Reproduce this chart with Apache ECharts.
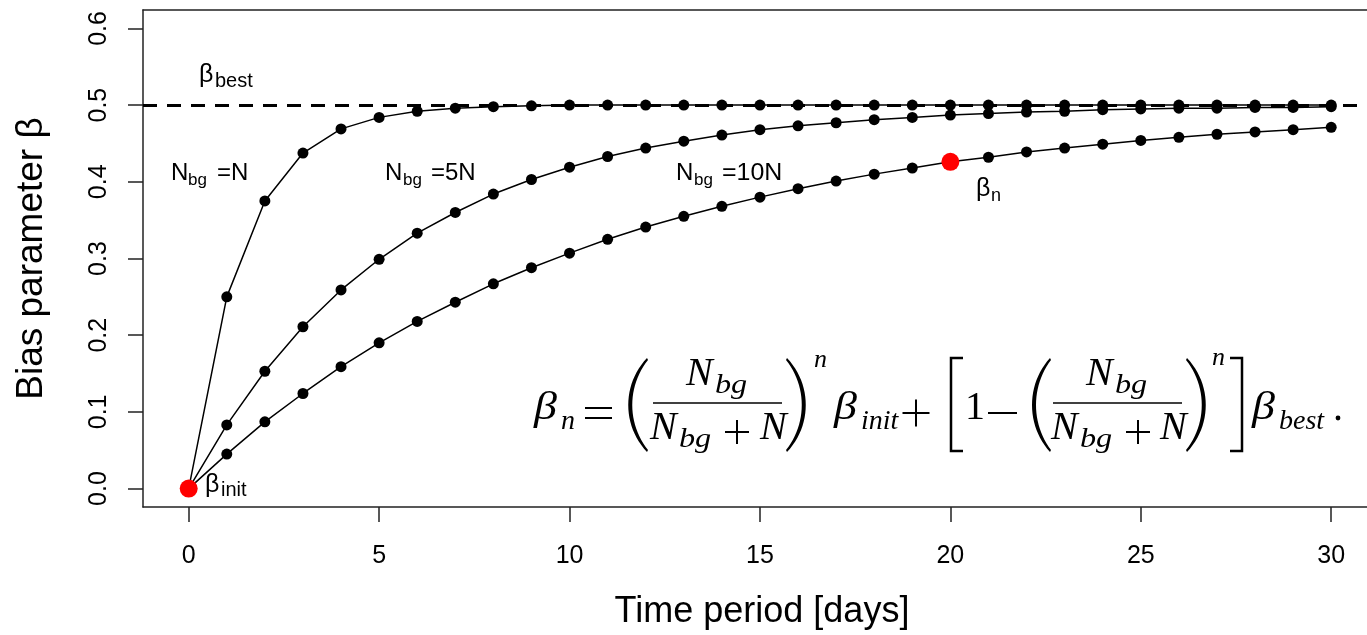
<!DOCTYPE html>
<html>
<head>
<meta charset="utf-8">
<script src="https://cdn.jsdelivr.net/npm/echarts@6/dist/echarts.min.js"></script>
<style>
  html, body { margin: 0; padding: 0; background: #fff; }
  #chart { width: 1367px; height: 635px; }
</style>
</head>
<body>
<div id="chart"></div>
<script>
// data
var days = [0, 1, 2, 3, 4, 5, 6, 7, 8, 9, 10, 11, 12, 13, 14, 15, 16, 17, 18, 19, 20,
  21, 22, 23, 24, 25, 26, 27, 28, 29, 30];
var betaN1 = [0, 0.25, 0.375, 0.4375, 0.469, 0.484, 0.492, 0.496, 0.498, 0.499, 0.5,
  0.5, 0.5, 0.5, 0.5, 0.5, 0.5, 0.5, 0.5, 0.5, 0.5, 0.5, 0.5, 0.5, 0.5, 0.5, 0.5, 0.5,
  0.5, 0.5, 0.5];
var betaN5 = [0, 0.083, 0.153, 0.211, 0.259, 0.299, 0.333, 0.360, 0.384, 0.403, 0.419,
  0.433, 0.444, 0.453, 0.461, 0.468, 0.473, 0.477, 0.481, 0.484, 0.487, 0.489, 0.491,
  0.492, 0.494, 0.495, 0.496, 0.496, 0.497, 0.497, 0.498];
var betaN10 = [0, 0.045, 0.087, 0.124, 0.159, 0.190, 0.218, 0.243, 0.267, 0.288, 0.307,
  0.325, 0.341, 0.355, 0.368, 0.380, 0.391, 0.401, 0.410, 0.418, 0.426, 0.432, 0.439,
  0.444, 0.449, 0.454, 0.458, 0.462, 0.465, 0.468, 0.471];
var betaBest = 0.5;
var redDays = [0, 20];
var redValues = [0, 0.426];
var xTicks = [0, 5, 10, 15, 20, 25, 30];
var yTicks = [0, 0.1, 0.2, 0.3, 0.4, 0.5, 0.6];

function pairs(xs, ys) {
  return xs.map(function (x, i) { return [x, ys[i]]; });
}

var SANS = 'Liberation Sans, Arial, Helvetica, sans-serif';
var SERIF = 'Liberation Serif, Times New Roman, serif';

// text placed by its baseline
function tx(text, x, base, size, serif, italic, sx) {
  return {
    type: 'text', x: x, y: base - 0.34 * size, z: 20, silent: true,
    scaleX: sx || 1,
    style: {
      text: text, fill: '#000', fontSize: size,
      fontFamily: serif ? SERIF : SANS,
      fontStyle: italic ? 'italic' : 'normal',
      align: 'left', verticalAlign: 'middle'
    }
  };
}
function seg(x1, y1, x2, y2, w) {
  return {
    type: 'line', z: 20, silent: true,
    shape: { x1: x1, y1: y1, x2: x2, y2: y2 },
    style: { stroke: '#000', lineWidth: w || 2 }
  };
}
function poly(pts, w) {
  return {
    type: 'polyline', z: 20, silent: true,
    shape: { points: pts },
    style: { stroke: '#000', lineWidth: w || 2.5, fill: null }
  };
}
function bez(a, b, c, d, t) {
  var u = 1 - t;
  return u * u * u * a + 3 * u * u * t * b + 3 * u * t * t * c + t * t * t * d;
}
// parenthesis as a thin crescent, dir -1 = "(", 1 = ")"
function paren(x0, x1, top, bot, dir) {
  var tip = dir < 0 ? x1 : x0, bow = dir < 0 ? x0 - 6 : x1 + 6;
  var bowIn = bow - dir * 5, tipIn = tip - dir * 1;
  var h = bot - top, pts = [], i, t;
  for (i = 0; i <= 24; i++) {
    t = i / 24;
    pts.push([bez(tip, bow, bow, tip, t), bez(top, top + h * 0.28, bot - h * 0.28, bot, t)]);
  }
  for (i = 24; i >= 0; i--) {
    t = i / 24;
    pts.push([bez(tipIn, bowIn, bowIn, tipIn, t), bez(top + 2, top + h * 0.3, bot - h * 0.3, bot - 2, t)]);
  }
  return { type: 'polygon', z: 20, silent: true, shape: { points: pts }, style: { fill: '#000' } };
}
function plus(cx, cy, s) {
  return [seg(cx - s / 2, cy, cx + s / 2, cy, 2), seg(cx, cy - s / 2, cx, cy + s / 2, 2)];
}

var M = 40, S = 28, SUP = 26, BX = 1.15;
var graphics = [
  // labels inside the plot
  tx('β', 199, 84, 25), tx('best', 215, 88, 20),
  tx('N', 171, 182, 24), tx('bg', 188, 186, 17), tx('=N', 217, 182, 24),
  tx('N', 385, 182, 24), tx('bg', 403, 186, 17), tx('=5N', 431, 182, 24),
  tx('N', 676, 182, 24), tx('bg', 694, 186, 17), tx('=10N', 722, 182, 24, false, false, 1.04),
  tx('β', 976, 198, 25), tx('n', 991, 202, 18),
  tx('β', 205, 494, 25), tx('init', 221, 497, 20),

  // formula
  tx('β', 534, 422, M, true, true, BX), tx('n', 561, 431, S, true, true),
  seg(585, 408, 612, 408), seg(585, 418, 612, 418),
  paren(628, 647, 358, 452, -1),
  tx('N', 686, 388, M, true, true), tx('bg', 715, 395, S, true, true, 1.15),
  seg(653, 403, 782, 403, 1.6),
  tx('N', 650, 442, M, true, true), tx('bg', 679, 449, S, true, true, 1.15),
  tx('N', 760, 442, M, true, true),
  paren(787, 806, 358, 452, 1),
  tx('n', 814, 369, SUP, true, true),
  tx('β', 834, 422, M, true, true, BX), tx('init', 861, 431, S, true, true),
  poly([[963, 358], [951, 358], [951, 451], [963, 451]]),
  tx('1', 965, 422, M, true, false),
  seg(988, 413, 1017, 413),
  paren(1032, 1050, 358, 452, -1),
  tx('N', 1086, 388, M, true, true), tx('bg', 1115, 395, S, true, true, 1.15),
  seg(1053, 403, 1182, 403, 1.6),
  tx('N', 1051, 442, M, true, true), tx('bg', 1080, 449, S, true, true, 1.15),
  tx('N', 1160, 442, M, true, true),
  paren(1187, 1206, 358, 452, 1),
  tx('n', 1212, 367, SUP, true, true),
  poly([[1230, 358], [1242, 358], [1242, 451], [1230, 451]]),
  tx('β', 1252, 422, M, true, true, BX), tx('best', 1279, 431, S, true, true),
  { type: 'circle', z: 20, silent: true, shape: { cx: 1338, cy: 418, r: 2.4 }, style: { fill: '#000' } }
].concat(plus(916, 413, 27), plus(737, 432, 24), plus(1138, 432, 24));

function curve(name, vals) {
  return {
    name: name, type: 'line', data: pairs(days, vals),
    symbol: 'circle', symbolSize: 11, showAllSymbol: true,
    itemStyle: { color: '#000' },
    lineStyle: { color: '#000', width: 1.5 },
    z: 3
  };
}

var chart = echarts.init(document.getElementById('chart'));
var n1 = curve('N', betaN1);
n1.markLine = {
  symbol: 'none', silent: true, label: { show: false },
  lineStyle: { color: '#000', width: 3, type: [14, 10] },
  data: [{ yAxis: betaBest }]
};

var frame = { show: true, onZero: false, lineStyle: { color: '#222', width: 1.5 } };

chart.setOption({
  animation: false,
  backgroundColor: '#fff',
  grid: { left: 143, top: 10, right: 0, bottom: 127 },
  xAxis: [{
    type: 'value', min: -1.2, max: 30.94, position: 'bottom',
    name: 'Time period [days]', nameLocation: 'middle', nameGap: 87,
    nameTextStyle: { fontSize: 36, color: '#000', fontFamily: SANS, padding: [0, 0, 0, 14] },
    axisLine: frame,
    axisTick: { show: true, inside: false, length: 15, customValues: xTicks,
      lineStyle: { color: '#222', width: 1.5 } },
    axisLabel: { customValues: xTicks, fontSize: 25, color: '#000', fontFamily: SANS, margin: 37 },
    splitLine: { show: false }
  }, {
    type: 'value', min: -1.2, max: 30.94, position: 'top',
    axisLine: frame, axisTick: { show: false }, axisLabel: { show: false },
    splitLine: { show: false }
  }],
  yAxis: {
    type: 'value', min: -0.024, max: 0.624,
    name: 'Bias parameter β', nameLocation: 'middle', nameGap: 93, nameRotate: 90,
    nameTextStyle: { fontSize: 37, color: '#000', fontFamily: SANS },
    axisLine: frame,
    axisTick: { show: true, inside: false, length: 15, customValues: yTicks,
      lineStyle: { color: '#222', width: 1.5 } },
    axisLabel: { customValues: yTicks, fontSize: 25, color: '#000', fontFamily: SANS,
      rotate: 90, margin: 31, formatter: function (v) { return v.toFixed(1); } },
    splitLine: { show: false }
  },
  series: [
    n1,
    curve('5N', betaN5),
    curve('10N', betaN10),
    {
      name: 'marked', type: 'scatter', data: pairs(redDays, redValues),
      symbolSize: 18, itemStyle: { color: '#ff0000', opacity: 1 }, z: 5
    }
  ],
  graphic: graphics
});
</script>
</body>
</html>
